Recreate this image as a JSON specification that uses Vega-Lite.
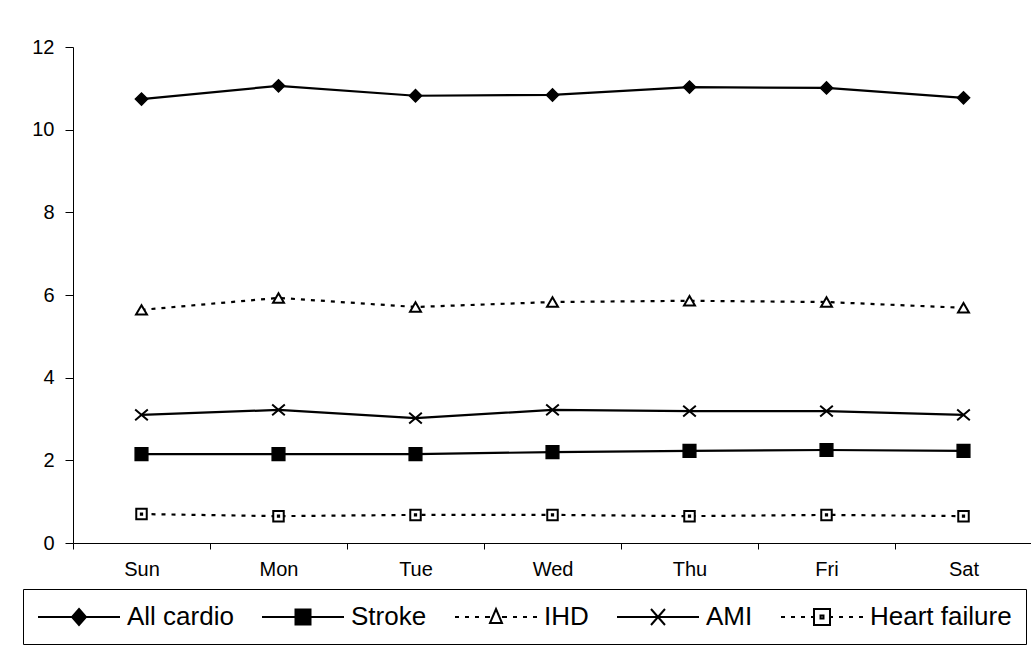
{
  "$schema": "https://vega.github.io/schema/vega-lite/v6.json",
  "autosize": {"type": "none"},
  "padding": {"left": 73, "top": 47, "right": 0, "bottom": 102},
  "width": 959,
  "height": 496,
  "background": "white",
  "config": {
    "view": {"stroke": null},
    "font": "Liberation Sans",
    "axis": {"domainColor": "black", "tickColor": "black", "labelColor": "black", "grid": false, "labelFont": "Liberation Sans", "labelFontSize": 20}
  },
  "data": {
    "values": [
      {"day": "Sun", "series": "All cardio", "value": 10.74},
      {"day": "Mon", "series": "All cardio", "value": 11.06},
      {"day": "Tue", "series": "All cardio", "value": 10.82},
      {"day": "Wed", "series": "All cardio", "value": 10.84},
      {"day": "Thu", "series": "All cardio", "value": 11.03},
      {"day": "Fri", "series": "All cardio", "value": 11.01},
      {"day": "Sat", "series": "All cardio", "value": 10.77},
      {"day": "Sun", "series": "Stroke", "value": 2.15},
      {"day": "Mon", "series": "Stroke", "value": 2.15},
      {"day": "Tue", "series": "Stroke", "value": 2.15},
      {"day": "Wed", "series": "Stroke", "value": 2.2},
      {"day": "Thu", "series": "Stroke", "value": 2.23},
      {"day": "Fri", "series": "Stroke", "value": 2.25},
      {"day": "Sat", "series": "Stroke", "value": 2.23},
      {"day": "Sun", "series": "IHD", "value": 5.64},
      {"day": "Mon", "series": "IHD", "value": 5.93},
      {"day": "Tue", "series": "IHD", "value": 5.71},
      {"day": "Wed", "series": "IHD", "value": 5.83},
      {"day": "Thu", "series": "IHD", "value": 5.86},
      {"day": "Fri", "series": "IHD", "value": 5.83},
      {"day": "Sat", "series": "IHD", "value": 5.69},
      {"day": "Sun", "series": "AMI", "value": 3.1},
      {"day": "Mon", "series": "AMI", "value": 3.22},
      {"day": "Tue", "series": "AMI", "value": 3.02},
      {"day": "Wed", "series": "AMI", "value": 3.22},
      {"day": "Thu", "series": "AMI", "value": 3.19},
      {"day": "Fri", "series": "AMI", "value": 3.19},
      {"day": "Sat", "series": "AMI", "value": 3.1},
      {"day": "Sun", "series": "Heart failure", "value": 0.7},
      {"day": "Mon", "series": "Heart failure", "value": 0.65},
      {"day": "Tue", "series": "Heart failure", "value": 0.68},
      {"day": "Wed", "series": "Heart failure", "value": 0.68},
      {"day": "Thu", "series": "Heart failure", "value": 0.65},
      {"day": "Fri", "series": "Heart failure", "value": 0.68},
      {"day": "Sat", "series": "Heart failure", "value": 0.65}
    ]
  },
  "encoding": {
    "x": {
      "field": "day", "type": "nominal", "sort": ["Sun", "Mon", "Tue", "Wed", "Thu", "Fri", "Sat"],
      "scale": {"type": "band", "paddingInner": 0, "paddingOuter": 0},
      "axis": {"title": null, "labelAngle": 0, "tickBand": "extent", "tickSize": 6, "labelPadding": 10}
    },
    "y": {
      "field": "value", "type": "quantitative",
      "scale": {"domain": [0, 12], "nice": false, "zero": true},
      "axis": {"title": null, "values": [0, 2, 4, 6, 8, 10, 12], "tickSize": 8, "labelPadding": 11}
    }
  },
  "layer": [
    {
      "transform": [{"filter": "datum.series === 'All cardio' || datum.series === 'Stroke' || datum.series === 'AMI'"}],
      "mark": {"type": "line", "color": "black", "strokeWidth": 2.2},
      "encoding": {"detail": {"field": "series", "type": "nominal"}}
    },
    {
      "transform": [{"filter": "datum.series === 'IHD' || datum.series === 'Heart failure'"}],
      "mark": {"type": "line", "color": "black", "strokeWidth": 2.2, "strokeDash": [4, 6]},
      "encoding": {"detail": {"field": "series", "type": "nominal"}}
    },
    {
      "transform": [{"filter": "datum.series === 'All cardio'"}],
      "mark": {"type": "point", "shape": "diamond", "size": 150, "filled": true, "stroke": "black", "strokeWidth": 1.5, "opacity": 1},
      "encoding": {
        "fill": {
          "field": "series", "type": "nominal",
          "scale": {"domain": ["All cardio", "Stroke", "IHD", "AMI", "Heart failure"], "range": ["black", "black", "white", "white", "white"]},
          "legend": {
            "title": null,
            "orient": "none",
            "direction": "horizontal",
            "legendX": -50,
            "legendY": 542,
            "padding": 14,
            "strokeColor": "black",
            "fillColor": "white",
            "symbolSize": 676,
            "symbolStrokeColor": "black",
            "symbolStrokeWidth": 2,
            "symbolOpacity": 1,
            "symbolType": {"expr": "datum.value === 'All cardio' ? 'M-1,0H1.615M2.692,0H5.308M2.154,-0.615L2.692,0L2.154,0.615L1.615,0Z' : datum.value === 'Stroke' ? 'M-1,0H5.308M1.577,-0.577H2.731V0.577H1.577Z' : datum.value === 'IHD' ? 'M-1,0H-0.692M-0.231,0H0.077M0.538,0H0.846M1.308,0H1.692M2.615,0H3M3.462,0H3.769M4.231,0H4.538M5,0H5.308M2.154,-0.615L2.615,0.462H1.692Z' : datum.value === 'AMI' ? 'M-1,0H5.308M1.615,-0.615L2.692,0.615M1.615,0.615L2.692,-0.615' : 'M-1,0H-0.692M-0.231,0H0.077M0.538,0H0.846M1.308,0H1.538M2.769,0H3M3.462,0H3.769M4.231,0H4.538M5,0H5.308M1.538,-0.615H2.769V0.615H1.538ZM2.039,-0.115H2.269V0.115H2.039Z'"},
            "labelOffset": 62,
            "columnPadding": 24,
            "labelFont": "Liberation Sans",
            "labelFontSize": 26,
            "labelColor": "black",
            "labelLimit": 400
          }
        }
      }
    },
    {
      "transform": [{"filter": "datum.series === 'Stroke'"}],
      "mark": {"type": "point", "shape": "square", "size": 160, "filled": true, "stroke": "black", "strokeWidth": 1.5, "opacity": 1},
      "encoding": {"fill": {"field": "series", "type": "nominal"}}
    },
    {
      "transform": [{"filter": "datum.series === 'IHD'"}],
      "mark": {"type": "point", "shape": "triangle-up", "size": 120, "filled": true, "stroke": "black", "strokeWidth": 2, "opacity": 1},
      "encoding": {"fill": {"field": "series", "type": "nominal"}}
    },
    {
      "transform": [{"filter": "datum.series === 'AMI'"}],
      "mark": {"type": "point", "shape": "M-1,-0.85L1,0.85M-1,0.85L1,-0.85", "size": 160, "filled": true, "stroke": "black", "strokeWidth": 2, "opacity": 1},
      "encoding": {"fill": {"field": "series", "type": "nominal"}}
    },
    {
      "transform": [{"filter": "datum.series === 'Heart failure'"}],
      "mark": {"type": "point", "shape": "M-1,-1H1V1H-1ZM-0.12,-0.12H0.12V0.12H-0.12Z", "size": 110, "filled": true, "stroke": "black", "strokeWidth": 2, "opacity": 1},
      "encoding": {"fill": {"field": "series", "type": "nominal"}}
    }
  ]
}
